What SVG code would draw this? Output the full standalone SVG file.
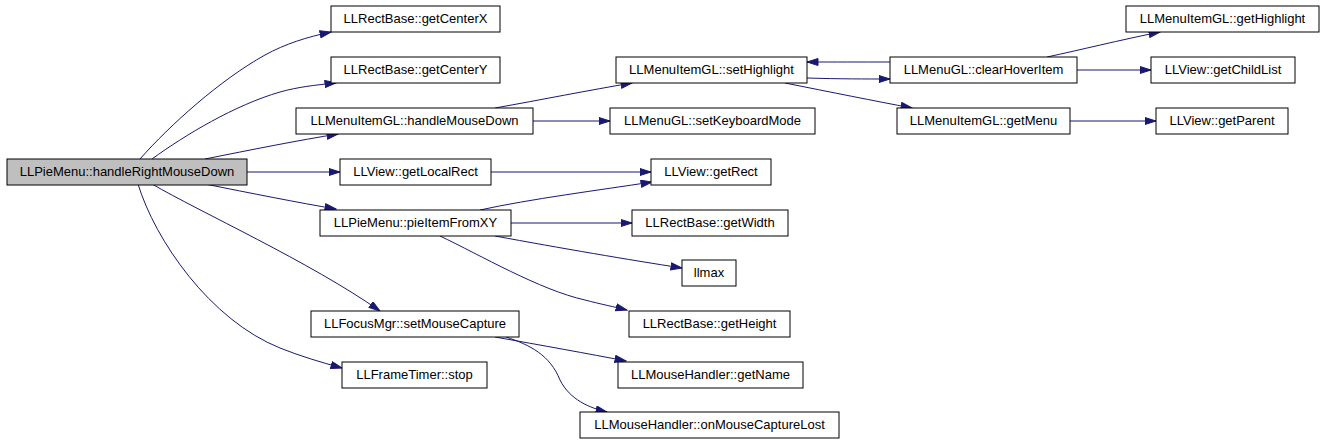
<svg xmlns="http://www.w3.org/2000/svg" width="1320" height="443" viewBox="0 0 1320 443">
<style>
.n rect{fill:#fff;stroke:#000;stroke-width:1}
.n text{font-family:"Liberation Sans",Arial,sans-serif;font-size:13px;fill:#000;text-anchor:middle}
#root rect{fill:#bfbfbf}
.e path{fill:none;stroke:#191970;stroke-width:1;marker-end:url(#ah)}
</style>
<defs>
<marker id="ah" markerUnits="userSpaceOnUse" markerWidth="13" markerHeight="10" refX="11.5" refY="4" orient="auto">
<path d="M0.5,0.5 L11.5,4 L0.5,7.5 z" fill="#191970" stroke="#191970" stroke-width="1"/>
</marker>
</defs>
<rect width="1320" height="443" fill="#fff"/>
<g id="edges" class="e">
<path d="M140,159 C170,125 220,80 265,55 C285,44 307,37 331,32"/>
<path d="M152,159 C185,135 235,105 280,92 C298,87 315,85 336,83"/>
<path d="M205,159 C250,150 300,140 338,134"/>
<path d="M247,172 L340,172"/>
<path d="M205,184 C250,193 300,203 336,209"/>
<path d="M152,184 C200,212 310,262 380,311"/>
<path d="M138,184 C155,240 210,320 280,348 C300,356 320,362 342,368"/>
<path d="M495,108 C540,100 590,90 632,83"/>
<path d="M533,121 L610,121"/>
<path d="M807,78 C840,79 865,79 890,79"/>
<path d="M890,62 C860,62 835,62 807,62"/>
<path d="M785,83 C830,92 875,101 912,108"/>
<path d="M1047,57 C1080,50 1120,40 1160,32"/>
<path d="M1077,70 L1151,70"/>
<path d="M1070,121 L1156,121"/>
<path d="M491,172 L651,172"/>
<path d="M480,210 C530,199 600,190 652,182"/>
<path d="M511,223 L632,223"/>
<path d="M495,236 C560,248 630,260 682,268"/>
<path d="M440,236 C480,255 540,290 585,300 C600,304 615,307 627,310"/>
<path d="M495,337 C540,345 590,354 626,361"/>
<path d="M506,337 C530,345 550,355 560,380 C570,400 590,408 607,412"/>
</g>
<g id="root" class="n"><rect x="7" y="159" width="240" height="26"/><text x="127" y="176">LLPieMenu::handleRightMouseDown</text></g>
<g id="getCenterX" class="n"><rect x="331" y="6" width="169" height="26"/><text x="415.5" y="23">LLRectBase::getCenterX</text></g>
<g id="getCenterY" class="n"><rect x="331" y="57" width="169" height="26"/><text x="415.5" y="74">LLRectBase::getCenterY</text></g>
<g id="handleMouseDown" class="n"><rect x="296" y="108" width="237" height="26"/><text x="414.5" y="125">LLMenuItemGL::handleMouseDown</text></g>
<g id="getLocalRect" class="n"><rect x="340" y="159" width="151" height="26"/><text x="415.5" y="176">LLView::getLocalRect</text></g>
<g id="pieItemFromXY" class="n"><rect x="320" y="210" width="191" height="26"/><text x="415.5" y="227">LLPieMenu::pieItemFromXY</text></g>
<g id="setMouseCapture" class="n"><rect x="311" y="311" width="208" height="26"/><text x="415" y="328">LLFocusMgr::setMouseCapture</text></g>
<g id="stop" class="n"><rect x="342" y="362" width="145" height="26"/><text x="414.5" y="379">LLFrameTimer::stop</text></g>
<g id="setHighlight" class="n"><rect x="616" y="57" width="191" height="26"/><text x="711.5" y="74">LLMenuItemGL::setHighlight</text></g>
<g id="setKeyboardMode" class="n"><rect x="610" y="108" width="205" height="26"/><text x="712.5" y="125">LLMenuGL::setKeyboardMode</text></g>
<g id="getRect" class="n"><rect x="651" y="159" width="120" height="26"/><text x="711" y="176">LLView::getRect</text></g>
<g id="getWidth" class="n"><rect x="632" y="210" width="156" height="26"/><text x="710" y="227">LLRectBase::getWidth</text></g>
<g id="llmax" class="n"><rect x="682" y="260" width="54" height="26"/><text x="709" y="277">llmax</text></g>
<g id="getHeight" class="n"><rect x="629" y="311" width="161" height="26"/><text x="709.5" y="328">LLRectBase::getHeight</text></g>
<g id="getName" class="n"><rect x="618" y="362" width="185" height="26"/><text x="710.5" y="379">LLMouseHandler::getName</text></g>
<g id="onMouseCaptureLost" class="n"><rect x="580" y="412" width="259" height="26"/><text x="709.5" y="429">LLMouseHandler::onMouseCaptureLost</text></g>
<g id="clearHoverItem" class="n"><rect x="890" y="57" width="187" height="26"/><text x="983.5" y="74">LLMenuGL::clearHoverItem</text></g>
<g id="getMenu" class="n"><rect x="897" y="108" width="173" height="26"/><text x="983.5" y="125">LLMenuItemGL::getMenu</text></g>
<g id="getHighlight" class="n"><rect x="1126" y="6" width="193" height="26"/><text x="1222.5" y="23">LLMenuItemGL::getHighlight</text></g>
<g id="getChildList" class="n"><rect x="1151" y="57" width="144" height="26"/><text x="1223" y="74">LLView::getChildList</text></g>
<g id="getParent" class="n"><rect x="1156" y="108" width="132" height="26"/><text x="1222" y="125">LLView::getParent</text></g>
</svg>
